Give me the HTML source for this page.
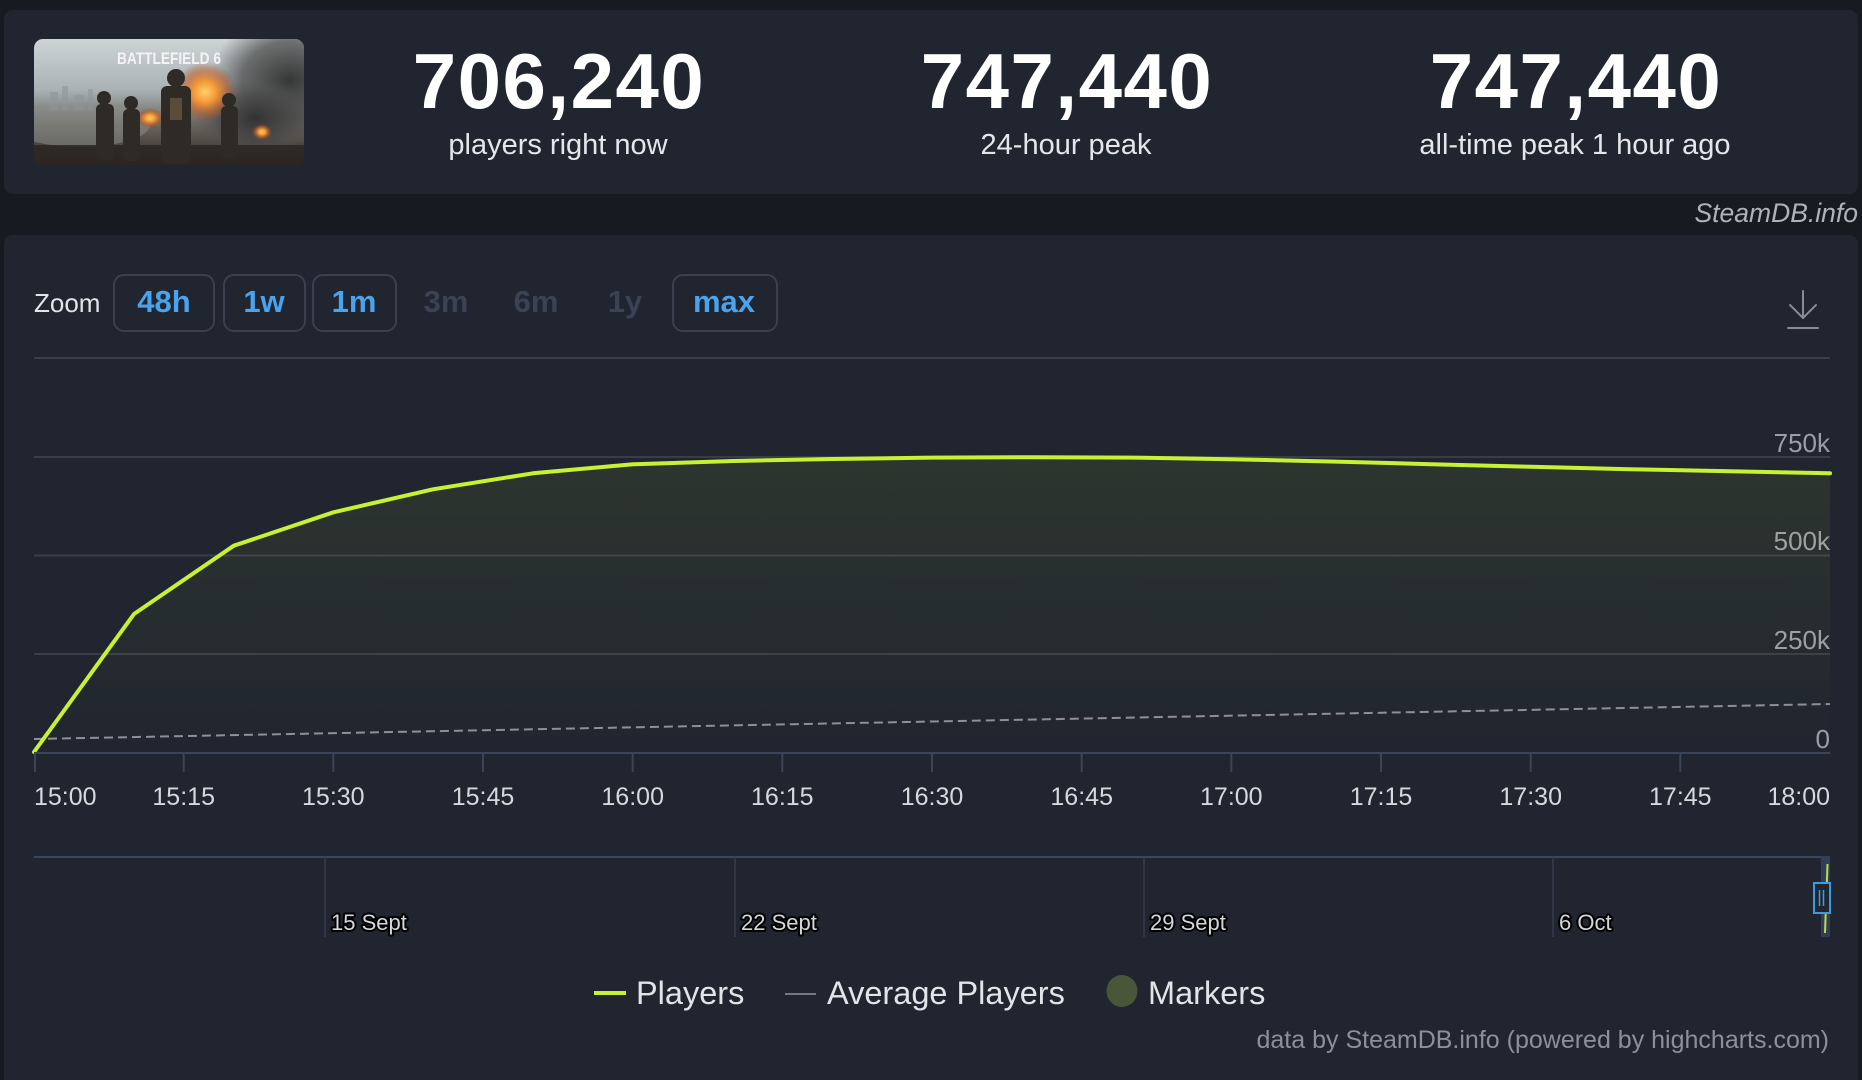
<!DOCTYPE html>
<html><head><meta charset="utf-8"><style>
html,body{margin:0;padding:0;background:#171a20;}
body{width:1862px;height:1080px;overflow:hidden;}
svg{display:block;}
text{font-family:"Liberation Sans",sans-serif;}
</style></head><body>
<svg width="1862" height="1080" viewBox="0 0 1862 1080" xmlns="http://www.w3.org/2000/svg">
<defs>
<clipPath id="thumbClip"><rect x="34" y="39" width="270" height="127" rx="9"/></clipPath>
<linearGradient id="sky" x1="0" y1="0" x2="0" y2="1">
<stop offset="0" stop-color="#cdd4d6"/><stop offset="0.4" stop-color="#aab2b4"/><stop offset="0.65" stop-color="#6e6a63"/><stop offset="1" stop-color="#2a2420"/>
</linearGradient>
<radialGradient id="smoke" cx="0.5" cy="0.5" r="0.5">
<stop offset="0" stop-color="#303030" stop-opacity="0.95"/><stop offset="0.6" stop-color="#474747" stop-opacity="0.7"/><stop offset="1" stop-color="#555" stop-opacity="0"/>
</radialGradient>
<radialGradient id="fire" cx="0.5" cy="0.5" r="0.5">
<stop offset="0" stop-color="#ffd070"/><stop offset="0.35" stop-color="#f59a35"/><stop offset="0.7" stop-color="#c4602a" stop-opacity="0.6"/><stop offset="1" stop-color="#a04a20" stop-opacity="0"/>
</radialGradient>
<linearGradient id="area" gradientUnits="userSpaceOnUse" x1="0" y1="457" x2="0" y2="753">
<stop offset="0" stop-color="#c6f233" stop-opacity="0.08"/><stop offset="1" stop-color="#c6f233" stop-opacity="0"/>
</linearGradient>
</defs>

<!-- top stats panel -->
<rect x="4" y="10" width="1854" height="184" rx="9" fill="#20252f"/>

<!-- thumbnail -->
<g clip-path="url(#thumbClip)">
<rect x="34" y="39" width="270" height="127" fill="url(#sky)"/>
<g fill="#8f989b" opacity="0.6">
<rect x="50" y="92" width="8" height="18"/><rect x="62" y="86" width="6" height="24"/><rect x="74" y="95" width="10" height="15"/><rect x="88" y="89" width="5" height="21"/>
</g>
<ellipse cx="290" cy="80" rx="80" ry="65" fill="url(#smoke)"/>
<ellipse cx="255" cy="118" rx="60" ry="38" fill="url(#smoke)"/>
<ellipse cx="80" cy="125" rx="70" ry="22" fill="#8b8f8e" opacity="0.5"/>
<ellipse cx="205" cy="92" rx="32" ry="30" fill="url(#fire)"/>
<ellipse cx="150" cy="118" rx="14" ry="10" fill="url(#fire)"/>
<ellipse cx="262" cy="132" rx="10" ry="8" fill="url(#fire)"/>
<rect x="34" y="145" width="270" height="21" fill="#2b2622" opacity="0.85"/>
<!-- soldiers -->
<g fill="#2e2a26">
<ellipse cx="104" cy="98" rx="7" ry="7"/><rect x="96" y="104" width="18" height="56" rx="5"/>
<ellipse cx="131" cy="103" rx="7" ry="7"/><rect x="123" y="109" width="17" height="52" rx="5"/>
<ellipse cx="176" cy="78" rx="9" ry="9"/><rect x="161" y="86" width="30" height="78" rx="6"/>
<ellipse cx="229" cy="100" rx="7" ry="7"/><rect x="221" y="106" width="17" height="52" rx="5"/>
</g>
<rect x="170" y="98" width="12" height="22" fill="#7a6448" opacity="0.6"/>
<text x="169" y="64" text-anchor="middle" font-size="17" font-weight="bold" fill="#f4f4f4" textLength="104" lengthAdjust="spacingAndGlyphs">BATTLEFIELD 6</text>
</g>

<!-- stats -->
<g fill="#ffffff" font-weight="bold" font-size="78" text-anchor="middle" letter-spacing="1.5">
<text x="559" y="108">706,240</text>
<text x="1067" y="108">747,440</text>
<text x="1576" y="108">747,440</text>
</g>
<g fill="#e4e6ea" font-size="29" text-anchor="middle">
<text x="558" y="154">players right now</text>
<text x="1066" y="154">24-hour peak</text>
<text x="1575" y="154">all-time peak 1 hour ago</text>
</g>

<text x="1858" y="222" text-anchor="end" font-size="26.5" font-style="italic" fill="#aeb3bb">SteamDB.info</text>

<!-- chart panel -->
<rect x="4" y="235" width="1854" height="860" rx="9" fill="#20252f"/>

<!-- zoom controls -->
<text x="34" y="312" font-size="26" fill="#e2e4e8">Zoom</text>
<g fill="none" stroke="#39414f" stroke-width="2">
<rect x="114" y="275" width="100" height="56" rx="10"/>
<rect x="224" y="275" width="81" height="56" rx="10"/>
<rect x="313" y="275" width="83" height="56" rx="10"/>
<rect x="673" y="275" width="104" height="56" rx="10"/>
</g>
<g font-size="31" font-weight="bold" text-anchor="middle">
<text x="164" y="312" fill="#4aa3ec">48h</text>
<text x="264" y="312" fill="#4aa3ec">1w</text>
<text x="354" y="312" fill="#4aa3ec">1m</text>
<text x="446" y="312" fill="#3a4354">3m</text>
<text x="536" y="312" fill="#3a4354">6m</text>
<text x="625" y="312" fill="#3a4354">1y</text>
<text x="724" y="312" fill="#4aa3ec">max</text>
</g>

<!-- download icon -->
<g stroke="#888c93" stroke-width="2" fill="none" stroke-linecap="round">
<line x1="1803" y1="291" x2="1803" y2="318"/>
<polyline points="1790,305 1803,318 1816,305"/>
<line x1="1788" y1="328" x2="1818" y2="328"/>
</g>

<!-- grid -->
<g stroke="#393d47" stroke-width="2">
<line x1="34" y1="358" x2="1830" y2="358"/>
<line x1="34" y1="457" x2="1830" y2="457"/>
<line x1="34" y1="555.5" x2="1830" y2="555.5"/>
<line x1="34" y1="654" x2="1830" y2="654"/>
</g>

<!-- y labels -->
<g fill="#9a9ea6" font-size="26" text-anchor="end">
<text x="1830" y="452">750k</text>
<text x="1830" y="550">500k</text>
<text x="1830" y="649">250k</text>
<text x="1830" y="748">0</text>
</g>

<!-- area and series -->
<path d="M34,752 L134,614 L233.8,545.7 L333.4,512.3 L433,489.3 L533,473.3 L633,464.3 L733,461 L832.6,459 L932,457.6 L1032,457.2 L1132,457.6 L1231,459.2 L1331,461.5 L1431,464.2 L1531,466.8 L1630,469.2 L1730,471.3 L1830,473.3 L1830,753 L34,753 Z" fill="url(#area)"/>
<line x1="34" y1="739" x2="1830" y2="704" stroke="#8d9096" stroke-width="2" stroke-dasharray="9,5"/>
<polyline points="34,752 134,614 233.8,545.7 333.4,512.3 433,489.3 533,473.3 633,464.3 733,461 832.6,459 932,457.6 1032,457.2 1132,457.6 1231,459.2 1331,461.5 1431,464.2 1531,466.8 1630,469.2 1730,471.3 1830,473.3" fill="none" stroke="#c6f233" stroke-width="4" stroke-linejoin="round" stroke-linecap="round"/>

<!-- x axis -->
<line x1="34" y1="753" x2="1830" y2="753" stroke="#3b4558" stroke-width="2"/>
<g stroke="#3b4558" stroke-width="2">
<line x1="35" y1="753" x2="35" y2="772"/>
<line x1="183.7" y1="753" x2="183.7" y2="772"/>
<line x1="333.3" y1="753" x2="333.3" y2="772"/>
<line x1="483" y1="753" x2="483" y2="772"/>
<line x1="632.7" y1="753" x2="632.7" y2="772"/>
<line x1="782.3" y1="753" x2="782.3" y2="772"/>
<line x1="932" y1="753" x2="932" y2="772"/>
<line x1="1081.7" y1="753" x2="1081.7" y2="772"/>
<line x1="1231.3" y1="753" x2="1231.3" y2="772"/>
<line x1="1381" y1="753" x2="1381" y2="772"/>
<line x1="1530.7" y1="753" x2="1530.7" y2="772"/>
<line x1="1680.3" y1="753" x2="1680.3" y2="772"/>
</g>
<g fill="#d6d8dc" font-size="25" text-anchor="middle">
<text x="34" y="805" text-anchor="start">15:00</text>
<text x="183.7" y="805">15:15</text>
<text x="333.3" y="805">15:30</text>
<text x="483" y="805">15:45</text>
<text x="632.7" y="805">16:00</text>
<text x="782.3" y="805">16:15</text>
<text x="932" y="805">16:30</text>
<text x="1081.7" y="805">16:45</text>
<text x="1231.3" y="805">17:00</text>
<text x="1381" y="805">17:15</text>
<text x="1530.7" y="805">17:30</text>
<text x="1680.3" y="805">17:45</text>
<text x="1830" y="805" text-anchor="end">18:00</text>
</g>

<!-- navigator -->
<line x1="34" y1="857" x2="1821" y2="857" stroke="#3a465c" stroke-width="2"/>
<g stroke="#343c4e" stroke-width="1.5">
<line x1="325" y1="857" x2="325" y2="937"/>
<line x1="735" y1="857" x2="735" y2="937"/>
<line x1="1144" y1="857" x2="1144" y2="937"/>
<line x1="1553" y1="857" x2="1553" y2="937"/>
</g>
<g font-size="22" fill="#d4d6da" stroke="#000" stroke-width="4" stroke-linejoin="round" paint-order="stroke">
<text x="331" y="930">15 Sept</text>
<text x="741" y="930">22 Sept</text>
<text x="1150" y="930">29 Sept</text>
<text x="1559" y="930">6 Oct</text>
</g>
<rect x="1821" y="856" width="9" height="81" fill="#333d5a"/>
<line x1="1825" y1="933" x2="1827.5" y2="864" stroke="#b9dc4a" stroke-width="2"/>
<rect x="1814" y="883" width="16" height="30" fill="#20252f" stroke="#3d9be0" stroke-width="2"/>
<line x1="1819.5" y1="890" x2="1819.5" y2="906" stroke="#3d9be0" stroke-width="1.5"/>
<line x1="1823.5" y1="890" x2="1823.5" y2="906" stroke="#3d9be0" stroke-width="1.5"/>

<!-- legend -->
<line x1="594" y1="993" x2="626" y2="993" stroke="#c6f233" stroke-width="4"/>
<text x="636" y="1004" font-size="32.5" fill="#e2e4e8">Players</text>
<line x1="785" y1="994" x2="816" y2="994" stroke="#77797e" stroke-width="2"/>
<text x="827" y="1004" font-size="32.5" fill="#e2e4e8">Average Players</text>
<ellipse cx="1122" cy="991" rx="15.5" ry="16" fill="#4a5638"/>
<text x="1148" y="1004" font-size="32.5" fill="#e2e4e8">Markers</text>

<!-- credits -->
<text x="1829" y="1048" text-anchor="end" font-size="25" fill="#8c9097">data by SteamDB.info (powered by highcharts.com)</text>
</svg>
</body></html>
